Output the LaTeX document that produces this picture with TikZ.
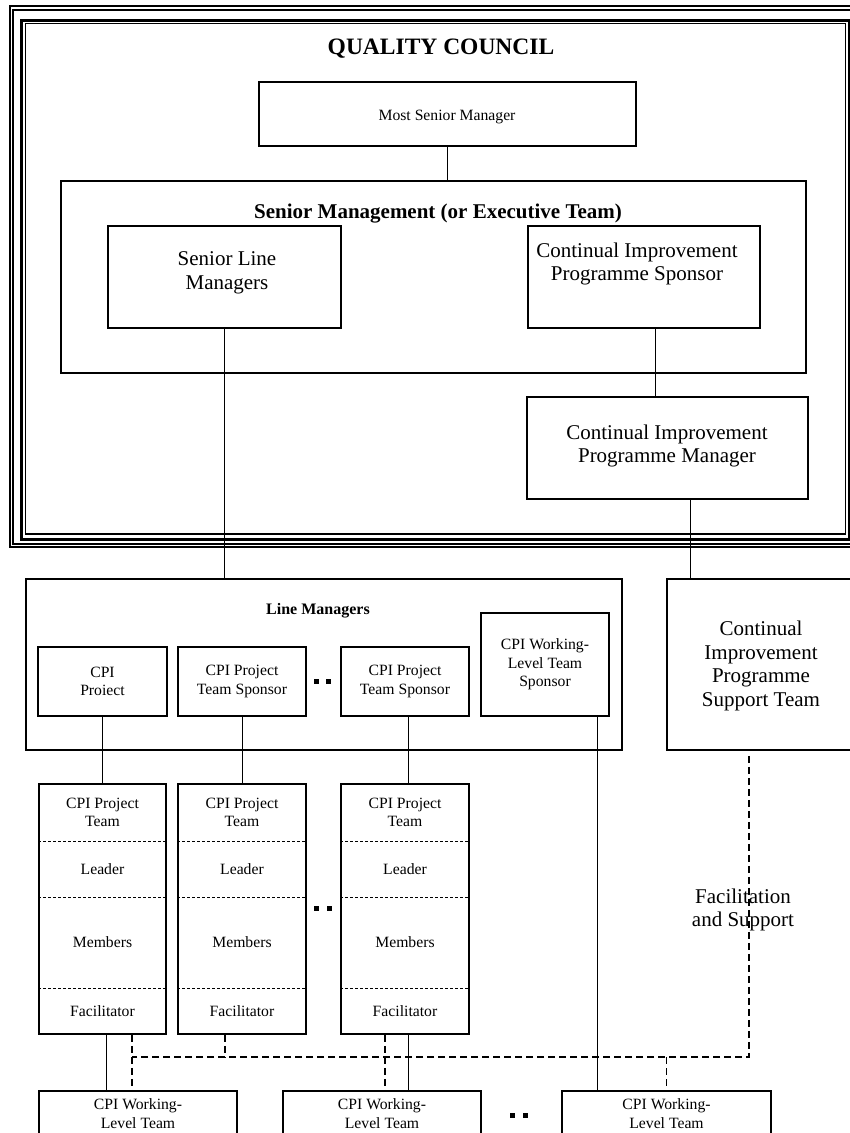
\documentclass[tikz,border=0pt]{standalone}
\usepackage{fontspec}
\setmainfont{Liberation Serif}
\begin{document}
\begin{tikzpicture}[x=1pt,y=-1pt,
  orgbox/.style={draw, line width=1.7pt, inner sep=0pt, align=center},
  smalltext/.style={font=\fontsize{15.7}{18.5}\selectfont},
  bigtext/.style={font=\fontsize{21}{23.5}\selectfont},
  txt/.style={inner sep=0pt, align=center},
  wire/.style={line width=0.9pt},
  facil/.style={line width=1.8pt, dash pattern=on 7pt off 4pt},
  sepline/.style={line width=0.8pt, dash pattern=on 3pt off 2pt},
  ellip/.style={fill, inner sep=0pt, minimum size=5pt}
]
\useasboundingbox (0,0) rectangle (850,1133);
\clip (0,0) rectangle (850,1133);
\fill[white] (0,0) rectangle (850,1133);

% triple frame of the quality council
\draw[line width=2.4pt] (9.8,6) rectangle (880,547);
\draw[line width=2.4pt] (13.2,10) rectangle (877,544);
\draw[line width=3.5pt] (21.5,20.5) rectangle (850,539.5);
\draw[line width=1.2pt] (25.5,23.5) rectangle (845.5,534);

\node[txt, font=\bfseries\fontsize{23.5}{26}\selectfont] (qc) at (441,49) {QUALITY COUNCIL};

% council members
\node[orgbox, minimum width=377pt, minimum height=64pt] (msm) at (447.5,114) {};
\node[txt, smalltext] (msmt) at (447,117) {Most Senior Manager};
\node[orgbox, minimum width=745pt, minimum height=192pt] (smt) at (433.5,277) {};
\node[txt, font=\bfseries\fontsize{21}{23}\selectfont] (smtt) at (438,214) {Senior Management (or Executive Team)};
\node[orgbox, minimum width=233pt, minimum height=102pt] (slm) at (224.5,277) {};
\node[txt, bigtext] (slmt) at (227,273) {Senior Line\\Managers};
\node[orgbox, minimum width=232pt, minimum height=102pt] (cips) at (644,277) {};
\node[txt, bigtext] (cipst) at (637,264) {Continual Improvement\\Programme Sponsor};
\node[orgbox, minimum width=281pt, minimum height=102pt] (cipm) at (667.5,448) {};
\node[txt, bigtext] (cipmt) at (667,446) {Continual Improvement\\Programme Manager};

% line managers and support team
\node[orgbox, minimum width=596pt, minimum height=171pt] (lm) at (324,664.5) {};
\node[txt, font=\bfseries\fontsize{16}{18}\selectfont] (lmt) at (318,611) {Line Managers};
\node[orgbox, minimum width=188pt, minimum height=171pt] (st) at (761,664.5) {};
\node[txt, bigtext] (stt) at (761,666) {Continual\\Improvement\\Programme\\Support Team};

% sponsors
\node[orgbox, smalltext, minimum width=129pt, minimum height=69pt] (sp1) at (102.5,681.5) {CPI\\Proiect};
\node[orgbox, smalltext, minimum width=128pt, minimum height=69pt] (sp2) at (242,681.5) {CPI Project\\Team Sponsor};
\node[orgbox, smalltext, minimum width=128pt, minimum height=69pt] (sp3) at (405,681.5) {CPI Project\\Team Sponsor};
\node[orgbox, smalltext, minimum width=128pt, minimum height=103pt] (wls) at (545,664.5) {CPI Working-\\Level Team\\Sponsor};
\node[ellip] (e1a) at (316.5,681) {};
\node[ellip] (e1b) at (328.7,681) {};

% project teams
\foreach \n/\cx/\w in {1/102.5/127pt, 2/242/128pt, 3/405/128pt}{
  \node[orgbox, minimum width=\w, minimum height=250pt] (pt\n) at (\cx,909) {};
  \foreach \yy in {841,897,988}
    \draw[sepline] (pt\n.west |- 0,\yy) -- (pt\n.east |- 0,\yy);
  \node[txt, smalltext] (pt\n h) at (\cx,812.5) {CPI Project\\Team};
  \node[txt, smalltext] (pt\n l) at (\cx,869.5) {Leader};
  \node[txt, smalltext] (pt\n m) at (\cx,942.5) {Members};
  \node[txt, smalltext] (pt\n f) at (\cx,1011) {Facilitator};
}
\node[ellip] (e2a) at (316,908.5) {};
\node[ellip] (e2b) at (329,908.5) {};

% working-level teams
\node[orgbox, minimum width=198pt, minimum height=60pt] (wl1) at (138,1121) {};
\node[orgbox, minimum width=198pt, minimum height=60pt] (wl2) at (382,1121) {};
\node[orgbox, minimum width=209pt, minimum height=60pt] (wl3) at (666.5,1121) {};
\node[txt, smalltext] (wl1t) at (138,1113.5) {CPI Working-\\Level Team};
\node[txt, smalltext] (wl2t) at (382,1113.5) {CPI Working-\\Level Team};
\node[txt, smalltext] (wl3t) at (666.5,1113.5) {CPI Working-\\Level Team};
\node[ellip] (e3a) at (512,1115) {};
\node[ellip] (e3b) at (525,1115) {};

% reporting lines
\draw[wire] (msm.south) -- (msm.south |- smt.north);
\draw[wire] (slm.south) -- (slm.south |- lm.north);
\draw[wire] ([xshift=11pt]cips.south) -- ([xshift=11pt]cips.south |- cipm.north);
\draw[wire] ([xshift=22.5pt]cipm.south) -- ([xshift=22.5pt]cipm.south |- st.north);
\draw[wire] (sp1.south) -- (sp1.south |- pt1.north);
\draw[wire] (sp2.south) -- (sp2.south |- pt2.north);
\draw[wire] ([xshift=3pt]sp3.south) -- ([xshift=3pt]sp3.south |- pt3.north);
\draw[wire] ([xshift=3.5pt]pt1.south) -- ([xshift=3.5pt]pt1.south |- wl1.north);
\draw[wire] ([xshift=3pt]pt3.south) -- ([xshift=3pt]pt3.south |- wl2.north);
\draw[wire] ([xshift=52pt]wls.south) -- ([xshift=52pt]wls.south |- wl3.north);

% facilitation and support network
\coordinate (fstop) at ([xshift=-12pt,yshift=-5pt]st.south);
\coordinate (fsbend) at (fstop |- 0,1057);
\coordinate (fsleft) at ([xshift=29.5pt]pt1.south |- 0,1057);
\draw[facil] (fstop) -- (fsbend) -- (fsleft);
\draw[facil] ([xshift=29.5pt]pt1.south) -- ([xshift=29.5pt]pt1.south |- wl1.north);
\draw[facil] ([xshift=-17pt]pt2.south) -- ([xshift=-17pt]pt2.south |- fsleft);
\draw[facil] ([xshift=-20pt]pt3.south) -- ([xshift=-20pt]pt3.south |- wl2.north);
\draw[facil] (wl3.north |- fsleft) -- (wl3.north);
\node[txt, bigtext] (fac) at (743,910) {Facilitation\\and Support};
\end{tikzpicture}
\end{document}
